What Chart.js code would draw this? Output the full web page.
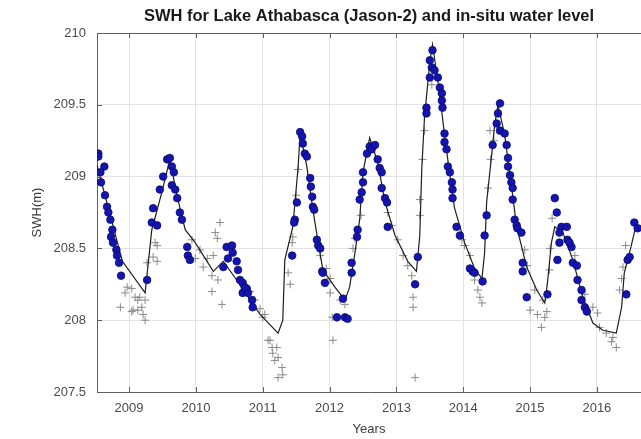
<!DOCTYPE html>
<html>
<head>
<meta charset="utf-8">
<script src="https://cdn.jsdelivr.net/npm/chart.js@4/dist/chart.umd.min.js"></script>
<style>
html,body{margin:0;padding:0;background:#fff;}
canvas{display:block;}
</style>
</head>
<body>
<canvas id="c" width="641" height="439"></canvas>
<script>
// ---- data ----
const chartTitle = 'SWH for Lake Athabasca (Jason-2) and in-situ water level';
const xLabel = 'Years';
const yLabel = 'SWH(m)';
const xRange = [2008.52, 2016.66];
const yRange = [207.5, 210];

// in-situ water level (black line): [year, level]
const inSituLine = [
 [2008.52,209.08],[2008.90,208.41],[2009.24,208.19],[2009.34,208.63],[2009.49,208.89],[2009.61,209.12],
 [2009.72,208.86],[2009.84,208.63],[2009.99,208.54],[2010.26,208.34],[2010.41,208.41],[2010.61,208.28],
 [2010.96,208.04],[2011.23,207.91],[2011.30,208.00],[2011.33,208.42],[2011.45,208.65],[2011.53,209.07],
 [2011.56,209.30],[2011.66,209.07],[2011.75,208.77],[2011.83,208.54],[2011.90,208.35],[2012.08,208.23],
 [2012.23,208.14],[2012.30,208.23],[2012.38,208.47],[2012.45,208.70],[2012.50,209.03],[2012.60,209.27],
 [2012.72,209.10],[2012.83,208.82],[2012.98,208.59],[2013.17,208.41],[2013.30,208.34],[2013.35,208.59],
 [2013.38,209.06],[2013.42,209.41],[2013.50,209.80],[2013.54,209.92],[2013.65,209.57],[2013.72,209.29],
 [2013.80,209.01],[2013.87,208.78],[2014.02,208.54],[2014.17,208.36],[2014.28,208.29],[2014.32,208.47],
 [2014.35,208.82],[2014.43,209.17],[2014.47,209.36],[2014.52,209.50],[2014.62,209.29],[2014.72,208.94],
 [2014.80,208.65],[2014.95,208.37],[2015.10,208.21],[2015.22,208.12],[2015.26,208.26],[2015.32,208.54],
 [2015.37,208.65],[2015.49,208.61],[2015.64,208.42],[2015.79,208.16],[2015.94,207.98],[2016.09,207.93],
 [2016.29,207.91],[2016.37,208.09],[2016.41,208.33],[2016.51,208.51],[2016.58,208.65],[2016.65,208.66]
];

// gray crosses: [year, level]
const crossPoints = [
 [2008.97,208.23],[2009.04,208.22],[2008.94,208.19],[2008.87,208.09],[2009.06,208.07],[2009.13,208.14],
 [2009.16,208.16],[2009.19,208.09],[2009.21,208.04],[2009.24,208.00],[2009.24,208.14],[2009.09,208.16],
 [2009.13,208.07],[2009.42,208.41],[2009.42,208.52],[2009.39,208.54],[2009.36,208.44],[2009.27,208.40],
 [2009.04,208.06],[2009.94,208.56],[2010.06,208.49],[2010.11,208.37],[2010.17,208.43],[2010.26,208.45],
 [2010.29,208.61],[2010.32,208.57],[2010.36,208.68],[2010.24,208.31],[2010.24,208.20],[2010.39,208.11],
 [2010.33,208.28],[2009.99,208.43],[2010.81,208.20],[2010.88,208.14],[2010.96,208.08],[2011.03,208.04],
 [2011.00,208.02],[2011.08,207.86],[2011.14,207.81],[2011.15,207.77],[2011.18,207.72],[2011.21,207.81],
 [2011.23,207.74],[2011.29,207.67],[2011.23,207.60],[2011.30,207.62],[2011.11,207.86],[2011.38,208.33],
 [2011.41,208.25],[2011.44,208.54],[2011.45,208.58],[2011.50,208.87],[2011.53,209.05],[2011.86,208.45],
 [2011.95,208.36],[2012.01,208.29],[2011.96,208.26],[2012.01,208.19],[2012.04,208.02],[2012.11,208.02],
 [2012.05,207.86],[2012.16,208.14],[2012.23,208.11],[2012.35,208.50],[2012.38,208.57],[2012.47,208.73],
 [2012.87,208.75],[2012.93,208.66],[2013.02,208.56],[2013.10,208.45],[2013.17,208.38],[2013.23,208.31],
 [2013.25,208.16],[2013.25,208.09],[2013.28,207.60],[2013.35,208.73],[2013.35,208.84],[2013.39,209.12],
 [2013.42,209.32],[2013.53,209.64],[2013.98,208.56],[2014.02,208.52],[2014.10,208.45],[2014.17,208.28],
 [2014.22,208.21],[2014.25,208.16],[2014.28,208.12],[2014.37,208.92],[2014.41,209.12],[2014.46,209.25],
 [2014.40,209.32],[2014.92,208.49],[2014.96,208.38],[2015.00,208.07],[2015.11,208.04],[2015.17,207.95],
 [2015.22,208.02],[2015.25,208.06],[2015.19,208.14],[2015.07,208.21],[2015.29,208.35],[2015.30,208.50],
 [2015.33,208.71],[2015.67,208.45],[2015.82,208.18],[2015.94,208.09],[2016.01,208.05],[2016.04,207.95],
 [2016.14,207.91],[2016.22,207.85],[2016.24,207.88],[2016.29,207.81],[2016.34,208.21],[2016.37,208.29],
 [2016.39,208.37],[2016.43,208.52]
];

// Jason-2 SWH (blue dots): [year, level]
const swhPoints = [
 [2008.54,209.16],[2008.54,209.14],[2008.63,209.07],[2008.57,209.03],[2008.58,208.96],[2008.64,208.87],
 [2008.67,208.79],[2008.69,208.75],[2008.72,208.70],[2008.75,208.63],[2008.73,208.58],[2008.76,208.54],
 [2008.81,208.49],[2008.82,208.45],[2008.85,208.40],[2008.88,208.31],[2009.27,208.28],[2009.34,208.68],
 [2009.36,208.78],[2009.42,208.66],[2009.46,208.91],[2009.51,209.00],[2009.57,209.12],[2009.61,209.13],
 [2009.64,209.07],[2009.67,209.03],[2009.64,208.94],[2009.69,208.91],[2009.72,208.85],[2009.76,208.75],
 [2009.79,208.70],[2009.87,208.51],[2009.88,208.45],[2009.91,208.42],[2010.41,208.37],[2010.46,208.51],
 [2010.54,208.52],[2010.55,208.47],[2010.48,208.43],[2010.61,208.41],[2010.63,208.35],[2010.66,208.28],
 [2010.70,208.26],[2010.76,208.22],[2010.70,208.19],[2010.78,208.19],[2010.84,208.14],[2010.85,208.09],
 [2010.73,208.23],[2011.56,209.31],[2011.59,209.28],[2011.60,209.23],[2011.63,209.16],[2011.66,209.14],
 [2011.71,208.99],[2011.72,208.93],[2011.74,208.86],[2011.75,208.79],[2011.77,208.77],[2011.81,208.56],
 [2011.83,208.52],[2011.86,208.50],[2011.89,208.34],[2011.90,208.33],[2011.93,208.26],[2011.51,208.82],
 [2011.48,208.70],[2011.47,208.68],[2011.44,208.45],[2012.11,208.02],[2012.23,208.02],[2012.27,208.01],
 [2012.20,208.15],[2012.33,208.40],[2012.33,208.33],[2012.41,208.58],[2012.42,208.63],[2012.45,208.84],
 [2012.48,208.89],[2012.50,208.96],[2012.50,209.03],[2012.56,209.16],[2012.60,209.21],[2012.63,209.19],
 [2012.68,209.22],[2012.72,209.12],[2012.75,209.06],[2012.78,209.03],[2012.78,208.92],[2012.83,208.85],
 [2012.86,208.82],[2012.87,208.65],[2013.32,208.44],[2013.28,208.25],[2013.45,209.48],[2013.45,209.44],
 [2013.50,209.81],[2013.54,209.88],[2013.53,209.76],[2013.57,209.74],[2013.50,209.69],[2013.62,209.69],
 [2013.65,209.62],[2013.68,209.58],[2013.68,209.53],[2013.69,209.48],[2013.72,209.30],[2013.72,209.24],
 [2013.75,209.19],[2013.77,209.07],[2013.80,209.03],[2013.83,208.96],[2013.84,208.91],[2013.84,208.85],
 [2013.90,208.65],[2013.95,208.59],[2014.10,208.36],[2014.14,208.34],[2014.17,208.33],[2014.29,208.27],
 [2014.35,208.73],[2014.32,208.59],[2014.55,209.51],[2014.52,209.44],[2014.50,209.37],[2014.55,209.32],
 [2014.62,209.30],[2014.44,209.22],[2014.65,209.22],[2014.67,209.13],[2014.67,209.07],[2014.70,209.01],
 [2014.72,208.96],[2014.74,208.92],[2014.74,208.84],[2014.77,208.70],[2014.80,208.66],[2014.81,208.64],
 [2014.87,208.61],[2014.89,208.40],[2014.89,208.34],[2014.95,208.16],[2015.26,208.18],[2015.37,208.85],
 [2015.40,208.75],[2015.47,208.65],[2015.55,208.65],[2015.44,208.61],[2015.56,208.56],[2015.62,208.51],
 [2015.41,208.42],[2015.64,208.40],[2015.70,208.38],[2015.71,208.28],[2015.77,208.21],[2015.77,208.14],
 [2015.82,208.09],[2015.85,208.06],[2015.44,208.54],[2015.59,208.54],[2016.44,208.18],[2016.46,208.42],
 [2016.49,208.44],[2016.56,208.68],[2016.61,208.64]
];

const toXY = arr => arr.map(p => ({x: p[0], y: p[1]}));
const FONT = "'Liberation Sans', Arial, Helvetica, sans-serif";

const framePlugin = {
  id: 'frame',
  afterDraw(chart) {
    const {ctx, chartArea: a, scales: {x, y}} = chart;
    ctx.save();
    ctx.strokeStyle = '#5f5f5f';
    ctx.lineWidth = 1;
    ctx.beginPath();
    ctx.moveTo(a.left, a.top + 0.5); ctx.lineTo(a.right, a.top + 0.5);
    x.ticks.forEach(t => {
      const p = Math.round(x.getPixelForValue(t.value)) + 0.5;
      ctx.moveTo(p, a.top); ctx.lineTo(p, a.top + 5);
      ctx.moveTo(p, a.bottom); ctx.lineTo(p, a.bottom - 5);
    });
    y.ticks.forEach(t => {
      const p = Math.round(y.getPixelForValue(t.value)) + 0.5;
      ctx.moveTo(a.left, p); ctx.lineTo(a.left + 5, p);
    });
    ctx.stroke();
    ctx.restore();
  }
};

new Chart(document.getElementById('c'), {
  type: 'scatter',
  data: {
    datasets: [
      {
        data: toXY(crossPoints),
        pointStyle: 'cross',
        pointRadius: 4,
        borderColor: '#8a8a8a',
        borderWidth: 1,
        backgroundColor: '#8a8a8a',
        order: 3
      },
      {
        data: toXY(inSituLine),
        showLine: true,
        borderColor: '#1e1e1e',
        borderWidth: 1.2,
        pointRadius: 0,
        tension: 0,
        order: 2
      },
      {
        data: toXY(swhPoints),
        pointStyle: 'circle',
        pointRadius: 3.8,
        backgroundColor: '#1414b0',
        borderColor: '#0a0a6e',
        borderWidth: 0.8,
        order: 1
      }
    ]
  },
  options: {
    responsive: false,
    animation: false,
    layout: { padding: 0, autoPadding: false },
    plugins: {
      legend: { display: false },
      tooltip: { enabled: false },
      title: {
        display: true,
        text: chartTitle,
        fullSize: false,
        color: '#1a1a1a',
        font: { family: FONT, size: 16.5, weight: 'bold' },
        padding: { top: 7, bottom: 6.2 }
      }
    },
    scales: {
      x: {
        type: 'linear',
        min: xRange[0],
        max: xRange[1],
        afterFit(s) { s.height = 47; },
        ticks: {
          stepSize: 1,
          includeBounds: false,
          color: '#4a4a4a',
          font: { family: FONT, size: 13 },
          padding: 9,
          maxRotation: 0,
          callback: v => String(v)
        },
        grid: { color: '#e3e3e3', drawTicks: false },
        border: { color: '#5f5f5f', width: 1 },
        title: {
          display: true,
          text: xLabel,
          color: '#3a3a3a',
          font: { family: FONT, size: 13 },
          padding: { top: 0, bottom: 1.5 }
        }
      },
      y: {
        min: yRange[0],
        max: yRange[1],
        afterFit(s) { s.width = 97; },
        ticks: {
          stepSize: 0.5,
          color: '#4a4a4a',
          font: { family: FONT, size: 13 },
          padding: 11,
          callback: v => String(Math.round(v * 10) / 10)
        },
        grid: { color: '#e3e3e3', drawTicks: false },
        border: { color: '#5f5f5f', width: 1 },
        title: {
          display: true,
          text: yLabel,
          color: '#3a3a3a',
          font: { family: FONT, size: 13 },
          padding: { top: 30, bottom: 0 }
        }
      }
    }
  },
  plugins: [framePlugin]
});
</script>
</body>
</html>
